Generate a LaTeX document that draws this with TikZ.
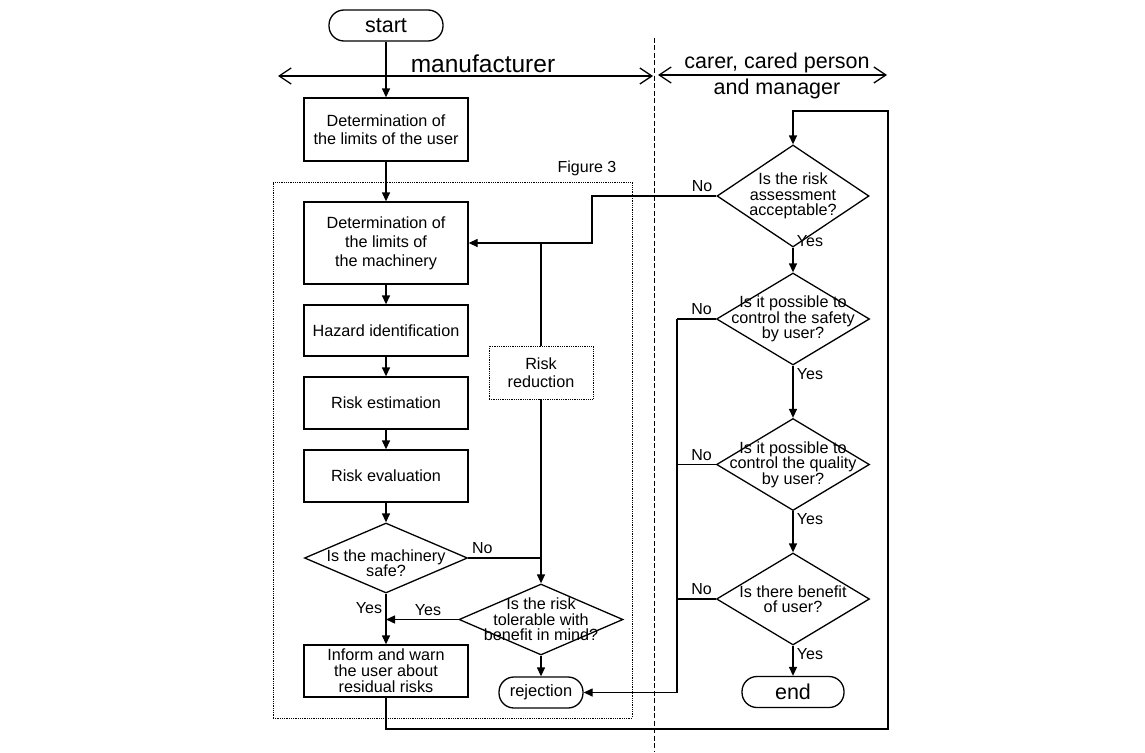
\documentclass[tikz,border=0pt]{standalone}
\usepackage{fontspec}
\setmainfont{Liberation Sans}
\usetikzlibrary{shapes.geometric,arrows.meta}

\begin{document}
\begin{tikzpicture}[x=1pt, y=-1pt, line width=1.3pt,
    >={Triangle[length=9pt,width=8pt]},
    box/.style={draw, align=center, minimum width=164pt, font=\fontsize{16.2}{18}\selectfont},
    term/.style={draw, rounded corners=15pt, minimum height=31pt, font=\fontsize{21.5}{24}\selectfont},
    dia/.style={draw, diamond, inner sep=0pt, minimum width=153pt, minimum height=92pt},
    dtext/.style={align=center, font=\fontsize{16.2}{15.5}\selectfont},
    lbl/.style={font=\fontsize{16}{18}\selectfont},
    hdr/.style={font=\fontsize{21.5}{26}\selectfont, inner sep=0pt, align=center},
    hline/.style={{Straight Barb[length=12pt,width=16pt]}-{Straight Barb[length=12pt,width=16pt]}},
    dotbox/.style={draw, densely dotted, line width=0.8pt}]
    \useasboundingbox (0,0) rectangle (1145,752);
    \node[term, minimum width=114pt] (start) at (386,25.5) {start};
    \node[box, minimum height=63pt] (user) at (386,129.5) {Determination of\\the limits of the user};
    \node[dotbox, minimum width=359pt, minimum height=536pt] (fig) at (452.5,450) {};
    \node[lbl] (figlbl) at (587,168) {Figure 3};
    \node[box, minimum height=82pt, font=\fontsize{16.2}{19}\selectfont] (mach) at (386,243) {Determination of\\the limits of\\the machinery};
    \node[box, minimum height=51pt] (haz) at (386,330.5) {Hazard identification};
    \node[box, minimum height=52pt] (est) at (386,403) {Risk estimation};
    \node[box, minimum height=52pt] (eval) at (386,476) {Risk evaluation};
    \node[dia, minimum width=163pt, minimum height=70pt, label={[dtext, yshift=-5pt]center:{Is the machinery\\safe?}}] (safe) at (386,558) {};
    \node[dia, minimum width=164pt, minimum height=71pt, label={[dtext]center:{Is the risk\\tolerable with\\benefit in mind?}}] (tol) at (541,619.5) {};
    \node[box, minimum height=52pt, font=\fontsize{16.2}{16}\selectfont] (inf) at (386,671) {Inform and warn\\the user about\\residual risks};
    \node[box, dotbox, minimum width=104pt, minimum height=53pt] (red) at (541,372.5) {Risk\\reduction};
    \node[term, minimum width=84pt, font=\fontsize{16.5}{18}\selectfont] (rej) at (541,692.5) {rejection};
    \node[dia, minimum width=152pt, minimum height=102pt, label={[dtext]center:{Is the risk\\assessment\\acceptable?}}] (acc) at (793,196) {};
    \node[dia, label={[dtext]center:{Is it possible to\\control the safety\\by user?}}] (sfty) at (793,319) {};
    \node[dia, label={[dtext]center:{Is it possible to\\control the quality\\by user?}}] (qual) at (793,464.5) {};
    \node[dia, label={[dtext]center:{Is there benefit\\of user?}}] (ben) at (793,599) {};
    \node[term, minimum width=102pt] (end) at (793,692) {end};
    \coordinate (mfl) at (278,76);
    \coordinate (mfr) at (653,76);
    \coordinate (crl) at (658,75);
    \coordinate (crr) at (887,75);
    \draw[hline] (mfl) -- (mfr);
    \draw[hline] (crl) -- (crr);
    \node[hdr, font=\fontsize{24.5}{26}\selectfont] (manu) at (483,64) {manufacturer};
    \node[hdr] (carer) at (777,75.5) {carer, cared person\\and manager};
    \coordinate (dtop) at (654,38);
    \coordinate (dbot) at (654,752);
    \draw[dash pattern=on 5pt off 2.5pt, line width=1pt] (dtop) -- (dbot);
    \draw[->] (start) -- (user);
    \draw[->] (user) -- (mach);
    \draw[->] (mach) -- (haz);
    \draw[->] (haz) -- (est);
    \draw[->] (est) -- (eval);
    \draw[->] (eval) -- (safe);
    \draw[->] (safe) -- node[lbl, left, pos=0.29] {Yes} (inf);
    \draw (safe.east) -- node[lbl, above right, pos=0] {No} (safe.east -| red.south);
    \draw (red.north) -- (red.north |- mach.east);
    \draw[->] (red.south) -- (tol.north);
    \draw[->] (tol.west) -- node[lbl, above, pos=0.42] {Yes} (tol.west -| inf.north);
    \draw[->] (tol) -- (rej);
    \coordinate (fb) at (592,196);
    \draw[->] (acc.west) -- node[lbl, above left, pos=0] {No} (fb) |- (mach.east);
    \draw[->] (acc) -- node[lbl, right, pos=0, yshift=7pt] {Yes} (sfty);
    \draw[->] (sfty) -- node[lbl, right, pos=0, yshift=-8pt] {Yes} (qual);
    \draw[->] (qual) -- node[lbl, right, pos=0, yshift=-8pt] {Yes} (ben);
    \draw[->] (ben) -- node[lbl, right, pos=0, yshift=-8pt] {Yes} (end);
    \coordinate (nox) at (677,320);
    \draw (sfty.west) -- node[lbl, above left, pos=0] {No} (sfty.west -| nox);
    \draw (qual.west) -- node[lbl, above left, pos=0] {No} (qual.west -| nox);
    \draw (ben.west) -- node[lbl, above left, pos=0] {No} (ben.west -| nox);
    \draw[->] (sfty.west -| nox) |- (rej.east);
    \coordinate (lpb) at (888,729);
    \coordinate (lpt) at (888,111);
    \draw[->] (inf.south) |- (lpb) -- (lpt) -| (acc.north);
\end{tikzpicture}
\end{document}
